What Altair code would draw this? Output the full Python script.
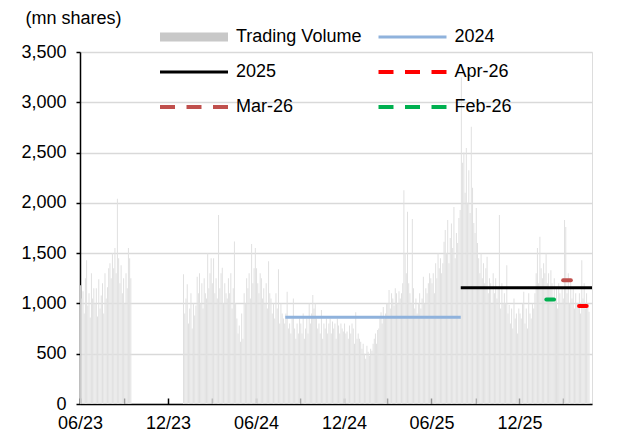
import altair as alt
import pandas as pd

# ---------------- data ----------------
months_2023 = ["2023-06", "2023-07", "2023-08", "2023-09"]
vol_2023 = [
    [1180, 1050, 1120, 900, 1250, 1430, 980, 1100, 860, 1300, 1050, 1150],
    [1000, 1150, 870, 1240, 950, 1080, 1200, 900, 1300, 1050, 1160, 1350],
    [1400, 1250, 1500, 1350, 1550, 1300, 2040, 1450, 1200, 1380, 1100, 1250],
    [1000, 1300, 1150, 1550, 1450, 1250],
]
months_2024 = ["2024-%02d" % m for m in range(1, 13)]
vol_2024 = [
    [1290, 900, 1050, 1190, 800, 950, 1100, 750, 1000, 880, 980, 1265],
    [1100, 1300, 1000, 1200, 950, 1250, 1100, 1050, 1500, 1150, 1300, 1450],
    [1200, 1450, 1100, 1250, 1050, 1880, 1150, 1300, 1355, 1000, 1200, 1100],
    [1050, 1250, 1100, 1300, 950, 1150, 1615, 1000, 850, 700, 780, 620],
    [900, 650, 1100, 1000, 1250, 1150, 1300, 1050, 1590, 1200, 1350, 1550],
    [1350, 1200, 1100, 1300, 1250, 1050, 1150, 1000, 1200, 950, 1420, 1100],
    [1050, 900, 1000, 850, 1100, 950, 1340, 800, 1000, 900, 850, 800],
    [900, 1115, 750, 800, 700, 850, 1050, 750, 650, 800, 700, 850],
    [800, 700, 900, 650, 750, 850, 700, 1000, 800, 900, 1085, 950],
    [1000, 850, 750, 800, 700, 935, 650, 800, 750, 850, 700, 800],
    [850, 700, 820, 750, 800, 650, 850, 780, 700, 800, 750, 720],
    [800, 700, 720, 650, 780, 700, 800, 750, 600, 913, 650, 700],
]
months_2025 = ["2025-%02d" % m for m in range(1, 13)]
vol_2025 = [
    [650, 620, 550, 600, 500, 450, 580, 520, 480, 550, 530, 600],
    [650, 700, 600, 735, 750, 850, 913, 800, 965, 850, 900, 1000],
    [1000, 1133, 950, 1100, 1050, 980, 1150, 1100, 1000, 1120, 1050, 1100],
    [1200, 2125, 1500, 1300, 1912, 1200, 1100, 1000, 1840, 1150, 950, 1050],
    [900, 1000, 1100, 950, 1050, 1265, 1000, 1150, 1100, 1200, 1300, 1250],
    [1200, 1300, 1100, 1400, 1250, 1500, 1350, 1450, 1300, 1400, 1613, 1730],
    [1500, 1830, 1400, 1650, 1795, 1550, 1960, 1450, 1700, 1600, 1850, 1930],
    [3250, 2400, 2500, 2100, 2545, 2000, 2325, 1900, 2756, 2150, 1800, 1700],
    [1950, 1600, 1450, 1300, 1500, 1250, 1400, 1200, 1350, 1465, 1100, 1250],
    [1200, 1000, 1300, 1100, 1250, 1050, 1150, 1880, 950, 1200, 1000, 1100],
    [1000, 1380, 900, 985, 800, 950, 750, 1050, 850, 900, 700, 950],
    [900, 850, 1000, 1115, 800, 950, 750, 1100, 900, 850, 1000, 950],
]
months_2026 = ["2026-01", "2026-02", "2026-03", "2026-04"]
vol_2026 = [
    [1100, 1300, 1550, 1200, 1663, 1350, 1250, 1400, 1300, 1500, 1200, 1300],
    [1150, 1330, 1200, 1000, 1250, 1050, 1150, 950, 1200, 1100, 1000, 1150],
    [1050, 1830, 1760, 1100, 1300, 1000, 1230, 1050, 1150, 950, 1100, 1000],
    [1000, 1100, 900, 1430, 1050, 1200, 950, 1100, 1000, 918],
]
# days of the month covered by data (partial months)
partial_days = {"2023-09": 15, "2026-04": 25}

series_names = ["Trading Volume", "2024", "2025", "Apr-26", "Mar-26", "Feb-26"]
series_colors = ["#c8c8c8", "#8fb2dc", "#000000", "#ff0000", "#c0504d", "#00b050"]

avg_names = ["2024", "2025", "Apr-26", "Mar-26", "Feb-26"]
avg_values = [862, 1157, 975, 1230, 1040]
avg_start = ["2024-08-01", "2025-08-01", "2026-04-04", "2026-03-02", "2026-01-26"]
avg_end = ["2025-08-01", "2026-05-01", "2026-04-20", "2026-03-18", "2026-02-11"]
avg_kind = ["year", "year", "month", "month", "month"]

label_months = [(2023, 6), (2023, 12), (2024, 6), (2024, 12), (2025, 6), (2025, 12)]
tick_months = [(2023, 6), (2023, 9), (2023, 12), (2024, 3), (2024, 6), (2024, 9),
               (2024, 12), (2025, 3), (2025, 6), (2025, 9), (2025, 12), (2026, 3)]

# ---------------- build tables ----------------
rows = []
for months, vols in [(months_2023, vol_2023), (months_2024, vol_2024),
                     (months_2025, vol_2025), (months_2026, vol_2026)]:
    for m, vals in zip(months, vols):
        start = pd.Timestamp(m + "-01")
        span = partial_days.get(m, start.days_in_month)
        n = len(vals)
        for i, v in enumerate(vals):
            d = start + pd.Timedelta(days=(i + 0.5) * span / n)
            rows.append({"date": d.strftime("%Y-%m-%dT%H:%M:%S"), "vol": v})
bars_df = pd.DataFrame(rows)

lines_df = pd.DataFrame({
    "series": avg_names, "value": avg_values,
    "start": [s + "T00:00:00" for s in avg_start],
    "end": [e + "T00:00:00" for e in avg_end],
    "kind": avg_kind,
})

FONT = "Liberation Sans"
W, H = 512, 352

xscale = alt.Scale(domain=[alt.DateTime(year=2023, month=6, date=1),
                           alt.DateTime(year=2026, month=5, date=1)], nice=False, padding=0)
yscale = alt.Scale(domain=[0, 3500], nice=False)

yaxis = alt.Axis(values=list(range(0, 3501, 500)), format=",d",
                 labelFontSize=18, labelFont=FONT, labelColor="black", labelPadding=10,
                 tickSize=4, tickColor="black", tickWidth=1.5,
                 domainColor="black", domainWidth=1.5,
                 grid=True, gridColor="#d9d9d9", gridWidth=1.5,
                 title="(mn shares)", titleAngle=0, titleAlign="left",
                 titleBaseline="middle", titleX=-55, titleY=-34,
                 titleFontSize=18, titleFont=FONT, titleFontWeight="normal",
                 titleColor="black")

bottom_axis = alt.Axis(values=[alt.DateTime(year=y, month=m, date=1) for y, m in label_months],
                       format="%m/%y", labelFontSize=18, labelFont=FONT, labelColor="black",
                       ticks=False, grid=False, domainColor="black", domainWidth=1.5,
                       labelPadding=10, title=None, labelFlush=False, labelOverlap=False)

top_tick_axis = alt.Axis(orient="top", values=[alt.DateTime(year=y, month=m, date=1) for y, m in tick_months],
                         labels=False, domain=False, grid=False, ticks=True,
                         tickSize=6, tickColor="black", tickWidth=1.5,
                         offset=-H, title=None)

legend = alt.Legend(orient="none", legendX=75.5, legendY=-25, columns=2, direction="horizontal",
                    columnPadding=12.5, rowPadding=15, clipHeight=20, padding=0,
                    symbolType="stroke", symbolSize=4624, labelFontSize=18,
                    labelFont=FONT, labelColor="black", labelOffset=3.5, title=None)

color = alt.Color("series:N", scale=alt.Scale(domain=series_names, range=series_colors), legend=legend)
dash = alt.StrokeDash("series:N", scale=alt.Scale(domain=series_names,
                      range=[[1, 0], [1, 0], [1, 0], [15, 11.5], [15, 11.5], [15, 11.5]]), legend=legend)
swidth = alt.StrokeWidth("series:N", scale=alt.Scale(type="ordinal", domain=series_names,
                         range=[9, 3, 3, 4, 4, 4]), legend=legend)

bars = alt.Chart(bars_df).mark_bar(width=1, color="#e0e0e0").encode(
    x=alt.X("date:T", scale=xscale, axis=bottom_axis),
    y=alt.Y("vol:Q", scale=yscale, axis=yaxis),
)

year_rules = alt.Chart(lines_df[lines_df.kind == "year"]).mark_rule().encode(
    x=alt.X("start:T", scale=xscale, axis=top_tick_axis),
    x2="end:T",
    y=alt.Y("value:Q", scale=yscale, axis=yaxis),
    color=color, strokeDash=dash, strokeWidth=swidth,
)

month_rules = alt.Chart(lines_df[lines_df.kind == "month"]).mark_rule(strokeCap="round").encode(
    x=alt.X("start:T", scale=xscale, axis=None),
    x2="end:T",
    y=alt.Y("value:Q", scale=yscale, axis=yaxis),
    color=color, strokeDash=dash, strokeWidth=swidth,
)

chart = alt.layer(bars, year_rules, month_rules).resolve_axis(x="independent").properties(
    width=W, height=H,
    autosize=alt.AutoSizeParams(type="none"),
    padding={"left": 72, "top": 44, "right": 19, "bottom": 27},
).configure_view(stroke=None).configure(font=FONT, background="white")

chart.save("out.html", embed_options={"renderer": "svg", "actions": False})
